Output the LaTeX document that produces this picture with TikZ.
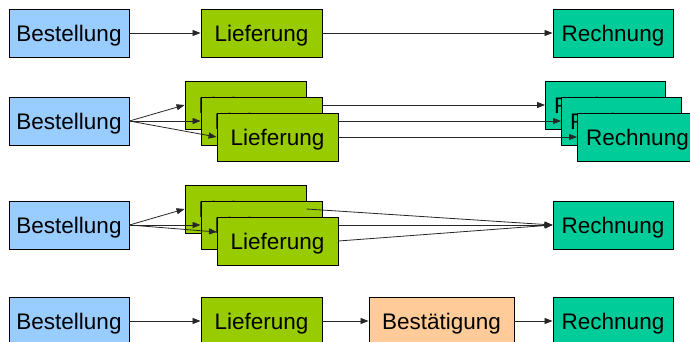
\documentclass[tikz,border=0pt]{standalone}
\usepackage{fontspec}
\setmainfont{Liberation Sans}
\usetikzlibrary{arrows.meta}
\definecolor{cBest}{HTML}{99CCFF}
\definecolor{cLief}{HTML}{99CC00}
\definecolor{cRech}{HTML}{00CC99}
\definecolor{cBst}{HTML}{FFCC99}
\begin{document}
\begin{tikzpicture}[x=1pt,y=-1pt,
  box/.style={draw=black,line width=0.9pt,minimum width=120pt,minimum height=48pt,inner sep=0pt,text height=17pt,text depth=0pt,font=\fontsize{22.5}{24}\selectfont},
  best/.style={box,fill=cBest},
  lief/.style={box,fill=cLief,minimum width=121pt},
  rech/.style={box,fill=cRech},
  bst/.style={box,fill=cBst,minimum width=145pt},
  conn/.style={draw=black!85,line width=0.8pt,-{Triangle[length=8pt,width=6pt]}}]
\useasboundingbox (0,0) rectangle (690,342);
% Row 1
\node[best] (b1) at (69,33) {Bestellung};
\node[lief] (l1) at (261.5,33) {Lieferung};
\node[rech] (r1) at (613,33) {Rechnung};
\draw[conn] (b1.east) -- (l1.west);
\draw[conn] (l1.east) -- (r1.west);
% Row 2
\node[best] (b2) at (69,121) {Bestellung};
\node[lief] (l2a) at (245.5,105) {Lieferung};
\node[rech] (r2a) at (605.5,105) {Rechnung};
\draw[conn] (b2.east) -- (l2a.west);
\draw[conn] (l2a.east) -- (r2a.west);
\node[lief] (l2b) at (261.5,121) {Lieferung};
\node[rech] (r2b) at (621.5,121) {Rechnung};
\draw[conn] (b2.east) -- (l2b.west);
\draw[conn] (l2b.east) -- (r2b.west);
\node[lief] (l2c) at (277.5,137) {Lieferung};
\node[rech] (r2c) at (637.5,137) {Rechnung};
\draw[conn] (b2.east) -- (l2c.west);
\draw[conn] (l2c.east) -- (r2c.west);
% Row 3
\node[best] (b3) at (69,225) {Bestellung};
\node[rech] (r3) at (613,225) {Rechnung};
\node[lief] (l3a) at (245.5,209) {Lieferung};
\node[lief] (l3b) at (261.5,225) {Lieferung};
\coordinate (t3) at (217,232);
\draw[conn] (b3.east) -- (l3a.west);
\draw[conn] (b3.east) -- (l3b.west);
\draw[conn] (b3.east) -- (t3);
\draw[conn] (l3a.east) -- (r3.west);
\draw[conn] (l3b.east) -- (r3.west);
\node[lief] (l3c) at (277.5,241) {Lieferung};
\draw[conn] (l3c.east) -- (r3.west);
% Row 4
\node[best] (b4) at (69,321) {Bestellung};
\node[lief] (l4) at (261.5,321) {Lieferung};
\node[bst] (s4) at (441.5,321) {Bestätigung};
\node[rech] (r4) at (613,321) {Rechnung};
\draw[conn] (b4.east) -- (l4.west);
\draw[conn] (l4.east) -- (s4.west);
\draw[conn] (s4.east) -- (r4.west);
\end{tikzpicture}
\end{document}
